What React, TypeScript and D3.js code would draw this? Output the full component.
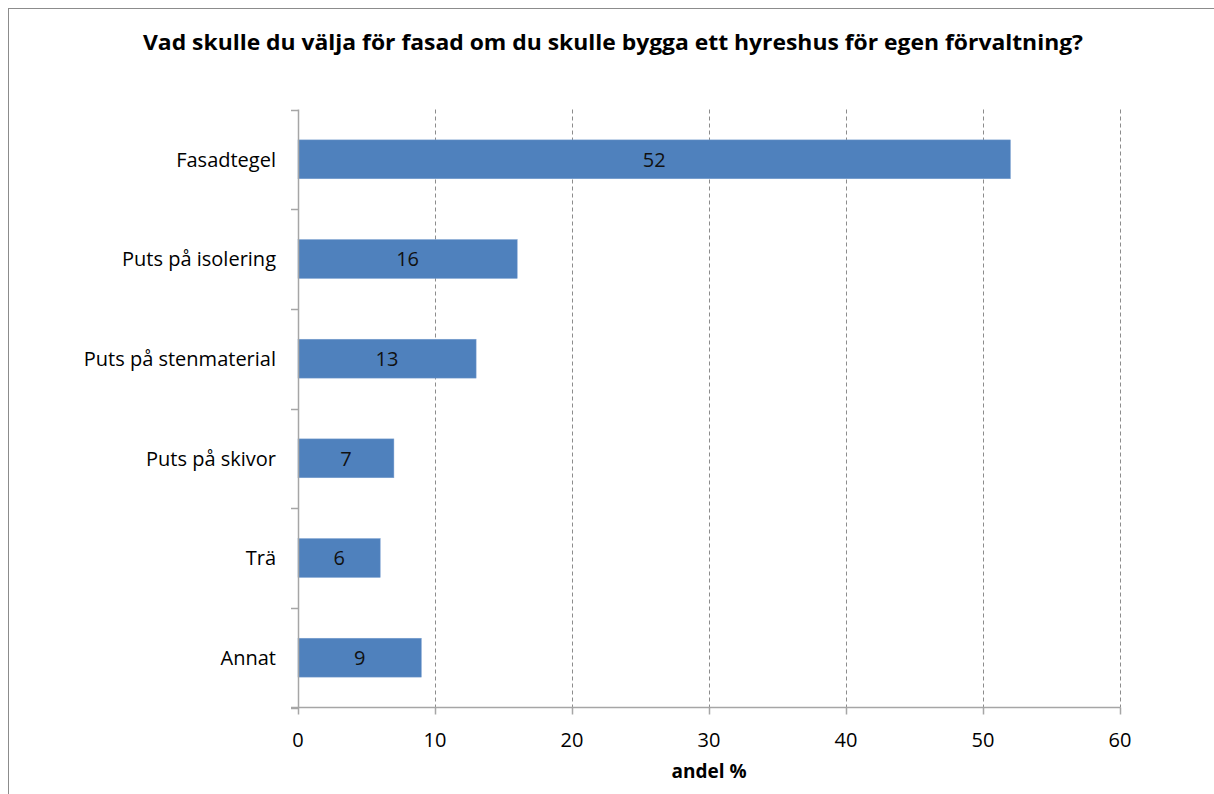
import React from "react";
import * as d3 from "d3";

const categories = ["Fasadtegel", "Puts på isolering", "Puts på stenmaterial", "Puts på skivor", "Trä", "Annat"];
const values = [52, 16, 13, 7, 6, 9];
const xTicks = [0, 10, 20, 30, 40, 50, 60];
const title = "Vad skulle du välja för fasad om du skulle bygga ett hyreshus för egen förvaltning?";
const xLabel = "andel %";

const W = 1214;
const H = 794;
const M = { left: 298, right: 1120, top: 109.5, bottom: 707.5 };
const FONT = "'Open Sans', 'Noto Sans', sans-serif";

export default function App() {
  const x = d3.scaleLinear().domain([0, 60]).range([M.left, M.right]);
  const y = d3.scaleBand().domain(categories).range([M.top, M.bottom]).paddingInner(0.61).paddingOuter(0.305);
  const bandStep = (M.bottom - M.top) / categories.length;
  const boundaries = d3.range(categories.length + 1).map((i) => M.top + i * bandStep);
  const axisColor = "#a6a6a6";
  return (
    <svg width={W} height={H} style={{ position: "absolute", left: 0, top: 0, background: "#fff" }}>
      <rect x={8.5} y={8.5} width={W + 20} height={H + 20} fill="#fff" stroke="#8c8c8c" strokeWidth={1} />
      <text x={613} y={50} textAnchor="middle" fontFamily={FONT} fontWeight="bold" fontSize={22} fill="#000" textLength={940} lengthAdjust="spacingAndGlyphs">
        {title}
      </text>
      {xTicks.filter((t) => t > 0).map((t) => (
        <line key={"g" + t} x1={Math.round(x(t)) + 0.5} x2={Math.round(x(t)) + 0.5} y1={M.top} y2={M.bottom} stroke="#8c8c8c" strokeWidth={1} strokeDasharray="4,3" />
      ))}
      {categories.map((c, i) => (
        <g key={c}>
          <rect x={x(0)} y={y(c)} width={x(values[i]) - x(0)} height={y.bandwidth()} fill="#4f81bd" stroke="#7a9fd0" strokeWidth={0.5} />
          <text x={(x(0) + x(values[i])) / 2} y={(y(c) as number) + y.bandwidth() / 2} dy="0.36em" textAnchor="middle" fontFamily={FONT} fontSize={20} fill="#111">
            {values[i]}
          </text>
          <text x={276} y={(y(c) as number) + y.bandwidth() / 2} dy="0.36em" textAnchor="end" fontFamily={FONT} fontSize={20} fill="#000">
            {c}
          </text>
        </g>
      ))}
      <line x1={M.left + 0.5} x2={M.left + 0.5} y1={M.top} y2={M.bottom} stroke={axisColor} strokeWidth={1.5} />
      {boundaries.map((b, i) => (
        <line key={"yt" + i} x1={M.left - 7} x2={M.left} y1={Math.round(b) + 0.5} y2={Math.round(b) + 0.5} stroke={axisColor} strokeWidth={1.5} />
      ))}
      <line x1={M.left - 7} x2={M.right + 0.5} y1={M.bottom} y2={M.bottom} stroke={axisColor} strokeWidth={1.5} />
      {xTicks.map((t) => (
        <g key={"xt" + t}>
          <line x1={Math.round(x(t)) + 0.5} x2={Math.round(x(t)) + 0.5} y1={M.bottom} y2={M.bottom + 7} stroke={axisColor} strokeWidth={1.5} />
          <text x={x(t)} y={747} textAnchor="middle" fontFamily={FONT} fontSize={20} fill="#000">
            {t}
          </text>
        </g>
      ))}
      <text x={(M.left + M.right) / 2} y={778} textAnchor="middle" fontFamily={FONT} fontWeight="bold" fontSize={19} fill="#000">
        {xLabel}
      </text>
    </svg>
  );
}
